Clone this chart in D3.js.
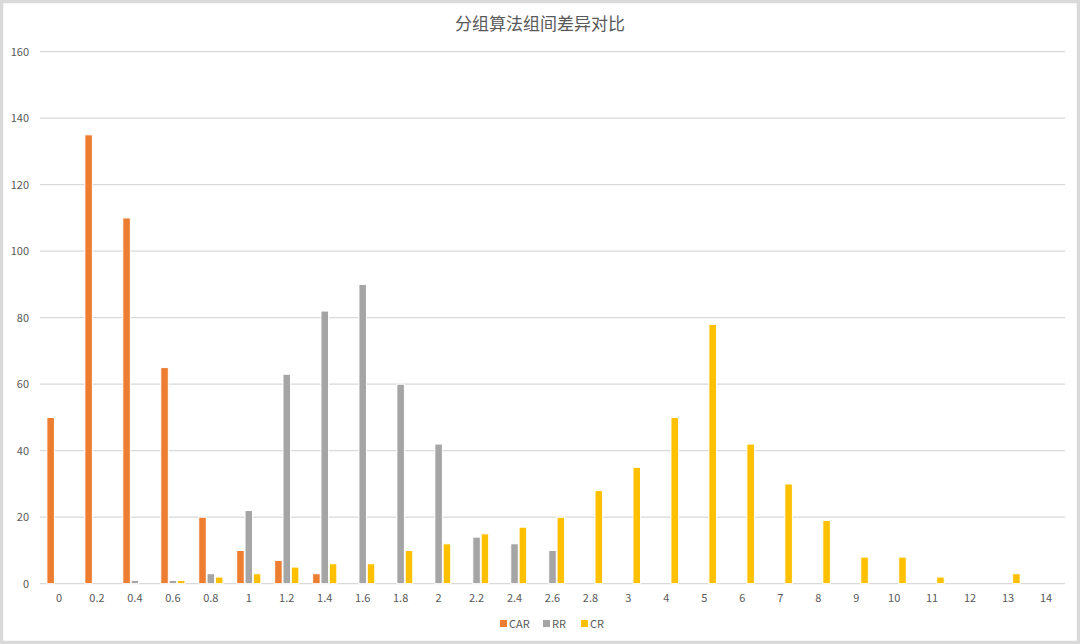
<!DOCTYPE html>
<html>
<head>
<meta charset="utf-8">
<script src="https://cdn.jsdelivr.net/npm/d3@7"></script>
<style>
  body { margin: 0; background: #fff; }
  svg { display: block; font-family: "Noto Sans CJK SC", "Open Sans", sans-serif; }
</style>
</head>
<body>
<div id="chart"></div>
<script>
var title = '分组算法组间差异对比'
var categories = ['0','0.2','0.4','0.6','0.8','1','1.2','1.4','1.6','1.8','2','2.2','2.4','2.6','2.8','3','4','5','6','7','8','9','10','11','12','13','14']
var seriesNames = ['CAR', 'RR', 'CR']
var seriesColors = ['#ed7d31', '#a5a5a5', '#ffc000']
var carValues = [50,135,110,65,20,10,7,3,0,0,0,0,0,0,0,0,0,0,0,0,0,0,0,0,0,0,0]
var rrValues  = [0,0,1,1,3,22,63,82,90,60,42,14,12,10,0,0,0,0,0,0,0,0,0,0,0,0,0]
var crValues  = [0,0,0,1,2,3,5,6,6,10,12,15,17,20,28,35,50,78,42,30,19,8,8,2,0,3,0]
var yTicks = [0,20,40,60,80,100,120,140,160]

var w = 1080
var h = 644
var plotLeft = 40, plotRight = 1065, plotTop = 51.7, plotBottom = 583.7

var svg = d3.select('#chart').append('svg')
    .attr('width', w)
    .attr('height', h)

// outer frame
svg.append('rect')
    .attr('x', 1.5).attr('y', 1.5)
    .attr('width', w - 3).attr('height', h - 3)
    .attr('fill', '#fff')
    .attr('stroke', '#d9d9d9')
    .attr('stroke-width', 3.5)

var x0 = d3.scaleBand().domain(categories).range([plotLeft, plotRight])
var x1 = d3.scaleBand().domain(seriesNames)
    .range([(x0.bandwidth() - 25) / 2, (x0.bandwidth() + 25) / 2])
var y = d3.scaleLinear().domain([0, 160]).range([plotBottom, plotTop])

// grid lines
svg.append('g').selectAll('line')
    .data(yTicks)
    .enter()
    .append('line')
    .attr('x1', plotLeft).attr('x2', plotRight)
    .attr('y1', function(d){ return y(d) })
    .attr('y2', function(d){ return y(d) })
    .attr('stroke', '#d9d9d9')
    .attr('stroke-width', 1.2)

// y tick labels
svg.append('g').selectAll('text')
    .data(yTicks)
    .enter()
    .append('text')
    .attr('x', 29)
    .attr('y', function(d){ return y(d) + 4 })
    .attr('text-anchor', 'end')
    .attr('font-size', 11)
    .attr('fill', '#595959')
    .text(function(d){ return d })

// x tick labels
svg.append('g').selectAll('text')
    .data(categories)
    .enter()
    .append('text')
    .attr('x', function(d){ return x0(d) + x0.bandwidth() / 2 })
    .attr('y', 602)
    .attr('text-anchor', 'middle')
    .attr('font-size', 11)
    .attr('fill', '#595959')
    .text(function(d){ return d })

var allValues = [carValues, rrValues, crValues]
var rows = []
allValues.forEach(function(vals, s){
    vals.forEach(function(v, i){
        if(v > 0) rows.push({cat: categories[i], name: seriesNames[s], value: v, color: seriesColors[s]})
    })
})

svg.append('g').selectAll('rect.bar')
    .data(rows)
    .enter()
    .append('rect')
    .attr('class', 'bar')
    .attr('x', function(d){ return x0(d.cat) + x1(d.name) + 0.4 })
    .attr('y', function(d){ return y(d.value) })
    .attr('width', x1.bandwidth() - 0.8)
    .attr('height', function(d){ return plotBottom - y(d.value) })
    .attr('fill', function(d){ return d.color })
    .attr('stroke', '#fff')
    .attr('stroke-width', 1)

// title
svg.append('text')
    .attr('x', 540)
    .attr('y', 30)
    .attr('text-anchor', 'middle')
    .attr('font-size', 17)
    .attr('fill', '#595959')
    .text(title)

// legend
var legend = svg.append('g').attr('transform', 'translate(500,624)')
var legendX = [0, 43, 81]
seriesNames.forEach(function(name, i){
    var g = legend.append('g').attr('transform', 'translate(' + legendX[i] + ',0)')
    g.append('rect')
        .attr('x', 0).attr('y', -4)
        .attr('width', 7).attr('height', 7)
        .attr('fill', seriesColors[i])
    g.append('text')
        .attr('x', 9).attr('y', 4)
        .attr('font-size', 11)
        .attr('fill', '#595959')
        .text(name)
})
</script>
</body>
</html>
